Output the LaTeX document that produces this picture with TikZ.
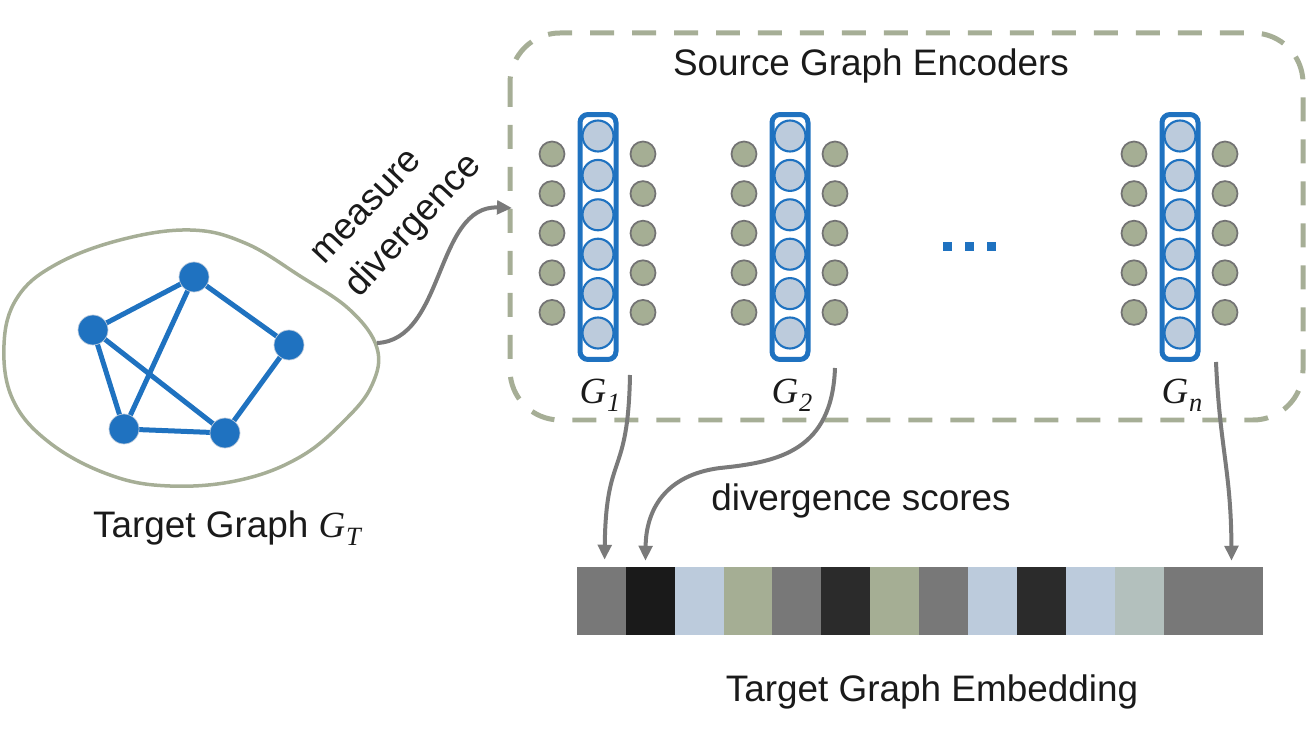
\documentclass[tikz,border=0pt]{standalone}
\usepackage{fontspec}
\setmainfont{Liberation Sans}
\newfontfamily\gfont{Liberation Serif}
\usetikzlibrary{arrows.meta,positioning,backgrounds}

\definecolor{gblue}{HTML}{1F72C0}
\definecolor{ublue}{HTML}{BCCBDC}
\definecolor{olive}{HTML}{A6AE96}
\definecolor{edgegray}{HTML}{737373}
\definecolor{arrgray}{HTML}{7A7A7A}
\definecolor{ink}{HTML}{1A1A1A}
\definecolor{cgray}{HTML}{787878}
\definecolor{cblack}{HTML}{1A1A1A}
\definecolor{cdark}{HTML}{2B2B2B}
\definecolor{cgreen}{HTML}{A5AE94}
\definecolor{cmix}{HTML}{B3C0BD}

\newcommand{\glabel}[1]{{\gfont\itshape G\kern0.5pt\raisebox{-5pt}{\fontsize{15}{15}\selectfont #1}}}

\begin{document}
\begin{tikzpicture}[
  x=0.02cm, y=-0.02cm,
  txt/.style={font=\fontsize{21}{27}\selectfont, text=ink, anchor=base, inner sep=0pt},
  vert/.style={circle, fill=gblue, draw=ublue, line width=0.4pt, minimum size=0.6cm, inner sep=0pt},
  gedge/.style={gblue, line width=0.1cm},
  blob/.style={olive, line width=0.07cm},
  encbox/.style={olive, line width=0.1cm, rounded corners=1cm, dash pattern=on 0.48cm off 0.36cm},
  enc/.style={draw=gblue, line width=0.1cm, rounded corners=0.16cm, minimum width=0.72cm, minimum height=4.9cm, inner sep=0pt},
  unit/.style={circle, fill=ublue, draw=gblue, line width=1.2pt, minimum size=0.62cm, inner sep=0pt},
  side/.style={circle, fill=cgreen, draw=edgegray, line width=1pt, minimum size=0.5cm, inner sep=0pt},
  dotsq/.style={fill=gblue, minimum size=0.18cm, inner sep=0pt},
  cell/.style={minimum width=0.9786cm, minimum height=1.34cm, inner sep=0pt, line width=0.3pt},
  flow/.style={arrgray, line width=0.08cm, -{Triangle[length=0.3cm,width=0.27cm]}}
]
  \useasboundingbox (0,0) rectangle (1306,733);

  % target graph
  \draw[blob] plot[smooth cycle, tension=0.65] coordinates {
    (17,298) (4,345) (13,400) (50,443) (110,475) (170,486) (240,480) (300,457)
    (345,420) (372,385) (377,348) (350,310) (300,276) (245,243) (190,230) (120,240) (55,265)};
  \node[vert] (gA) at (194,277) {};
  \node[vert] (gB) at (93,330) {};
  \node[vert] (gC) at (289,345) {};
  \node[vert] (gD) at (124,429) {};
  \node[vert] (gE) at (225,433) {};
  \begin{scope}[on background layer]
    \draw[gedge] (gA.center) -- (gB.center) (gA.center) -- (gC.center) (gA.center) -- (gD.center)
                 (gB.center) -- (gD.center) (gB.center) -- (gE.center) (gD.center) -- (gE.center)
                 (gC.center) -- (gE.center);
  \end{scope}
  \node[txt] (tlabel) at (227,537) {Target Graph \glabel{T}};

  % source graph encoders
  \draw[encbox] (510,33) rectangle (1303,420);
  \node[txt] (title) at (871,76) {Source Graph Encoders};
  \foreach \k/\cx in {1/598, 2/790, n/1180} {
    \node[enc] (enc\k) at (\cx,237) {};
    \foreach \i in {0,...,5}
      \node[unit] (u\k\i) at (\cx,{136+39.4*\i}) {};
    \foreach \i in {0,...,4} {
      \node[side] (l\k\i) at ({\cx-46},{154+39.6*\i}) {};
      \node[side] (r\k\i) at ({\cx+45},{154+39.6*\i}) {};
    }
    \node[txt] (lab\k) at ({\cx+2},403) {\glabel{\k}};
  }
  \foreach \x in {947,969,991} \node[dotsq] (dot\x) at (\x,247) {};

  % embedding
  \foreach \c [count=\i] in {cgray,cblack,ublue,cgreen,cgray,cdark,cgreen,cgray,ublue,cdark,ublue,cmix,cgray,cgray}
    \node[cell, fill=\c, draw=\c] (c\i) at ({577+48.93*(\i-0.5)},600.5) {};
  \node[txt] (emb) at (932,701) {Target Graph Embedding};

  % arrows
  \coordinate (blobE) at (377,343);
  \coordinate (encW) at (512,208);
  \draw[flow] (blobE) .. controls (445,340) and (435,205) .. (encW);
  \node[txt, anchor=center, align=left, rotate=47] (meas) at (399,212) {measure\\divergence};

  \coordinate (s1) at (630,375);
  \coordinate (s2) at (835,368);
  \coordinate (sn) at (1216,362);
  \draw[flow, shorten >=0.14cm] (s1) .. controls (628,480) and (606,450) .. ([xshift=0.06cm]c1.north);
  \draw[flow, shorten >=0.12cm] (s2) .. controls (832,450) and (780,462) .. (720,468)
      .. controls (665,475) and (646,510) .. ([xshift=-0.1cm]c2.north);
  \draw[flow, shorten >=0.12cm] (sn) .. controls (1220,450) and (1231,470) .. ([xshift=-0.12cm]c14.north);
  \node[txt] (scores) at (861,510) {divergence scores};
\end{tikzpicture}
\end{document}
